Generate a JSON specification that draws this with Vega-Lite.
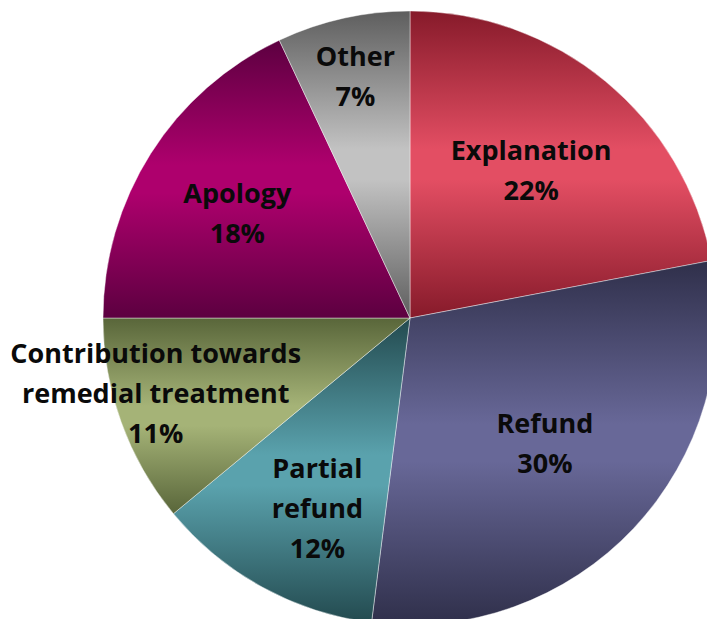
{
  "$schema": "https://vega.github.io/schema/vega-lite/v6.json",
  "width": 594,
  "height": 602,
  "autosize": {"type": "none"},
  "padding": {"left": 113, "top": 17, "right": 0, "bottom": 0},
  "background": "#ffffff",
  "view": {"stroke": null},
  "data": {
    "values": [
      {"cat": "Explanation", "label": "Explanation", "value": 22, "order": 1},
      {"cat": "Refund", "label": "Refund", "value": 30, "order": 2},
      {"cat": "Partial refund", "label": "Partial\nrefund", "value": 12, "order": 3},
      {"cat": "Contribution towards remedial treatment", "label": "Contribution towards\nremedial treatment", "value": 11, "order": 4},
      {"cat": "Apology", "label": "Apology", "value": 18, "order": 5},
      {"cat": "Other", "label": "Other", "value": 7, "order": 6}
    ]
  },
  "transform": [
    {"calculate": "datum.label + '\\n' + datum.value + '%'", "as": "text"}
  ],
  "encoding": {
    "theta": {"field": "value", "type": "quantitative", "stack": true},
    "order": {"field": "order", "type": "quantitative"}
  },
  "layer": [
    {
      "mark": {"type": "arc", "radius": 307, "stroke": "#ffffff", "strokeWidth": 0.7, "strokeOpacity": 0.6},
      "encoding": {
        "fill": {
          "condition": [
            {"test": "datum.cat === 'Explanation'", "value": {"gradient": "linear", "x1": 0, "y1": 0, "x2": 0, "y2": 1, "stops": [{"offset": 0, "color": "#861A2A"}, {"offset": 0.45, "color": "#E34E63"}, {"offset": 0.55, "color": "#E34E63"}, {"offset": 1, "color": "#861A2A"}]}},
            {"test": "datum.cat === 'Refund'", "value": {"gradient": "linear", "x1": 0, "y1": 0, "x2": 0, "y2": 1, "stops": [{"offset": 0, "color": "#2F2F4A"}, {"offset": 0.45, "color": "#686898"}, {"offset": 0.55, "color": "#686898"}, {"offset": 1, "color": "#2F2F4A"}]}},
            {"test": "datum.cat === 'Partial refund'", "value": {"gradient": "linear", "x1": 0, "y1": 0, "x2": 0, "y2": 1, "stops": [{"offset": 0, "color": "#234A4F"}, {"offset": 0.45, "color": "#5AA2AD"}, {"offset": 0.55, "color": "#5AA2AD"}, {"offset": 1, "color": "#234A4F"}]}},
            {"test": "datum.cat === 'Contribution towards remedial treatment'", "value": {"gradient": "linear", "x1": 0, "y1": 0, "x2": 0, "y2": 1, "stops": [{"offset": 0, "color": "#59663A"}, {"offset": 0.45, "color": "#A5B377"}, {"offset": 0.55, "color": "#A5B377"}, {"offset": 1, "color": "#59663A"}]}},
            {"test": "datum.cat === 'Apology'", "value": {"gradient": "linear", "x1": 0, "y1": 0, "x2": 0, "y2": 1, "stops": [{"offset": 0, "color": "#5C0040"}, {"offset": 0.45, "color": "#AE006D"}, {"offset": 0.55, "color": "#AE006D"}, {"offset": 1, "color": "#5C0040"}]}},
            {"test": "datum.cat === 'Other'", "value": {"gradient": "linear", "x1": 0, "y1": 0, "x2": 0, "y2": 1, "stops": [{"offset": 0, "color": "#5E5E5E"}, {"offset": 0.45, "color": "#C2C2C2"}, {"offset": 0.55, "color": "#C2C2C2"}, {"offset": 1, "color": "#5E5E5E"}]}}
          ],
          "value": "#999999"
        }
      }
    },
    {
      "mark": {
        "type": "text",
        "font": "Open Sans",
        "fontWeight": "bold",
        "fontSize": 27,
        "lineHeight": 40,
        "lineBreak": "\n",
        "align": "center",
        "baseline": "middle",
        "color": "#0a0a0a",
        "radius": {"expr": "datum.cat === 'Explanation' ? 190 : datum.cat === 'Refund' ? 185 : datum.cat === 'Partial refund' ? 213 : datum.cat === 'Apology' ? 201 : datum.cat === 'Other' ? 246 : 265"},
        "dx": {"expr": "datum.cat === 'Partial refund' ? 10 : datum.cat === 'Apology' ? -3 : datum.cat === 'Other' ? -1 : datum.cat === 'Contribution towards remedial treatment' ? -5 : 0"},
        "dy": {"expr": "datum.cat === 'Partial refund' ? -35 : datum.cat === 'Apology' ? -15 : datum.cat === 'Contribution towards remedial treatment' ? -53 : -20"}
      },
      "encoding": {
        "text": {"field": "text", "type": "nominal"}
      }
    }
  ]
}
